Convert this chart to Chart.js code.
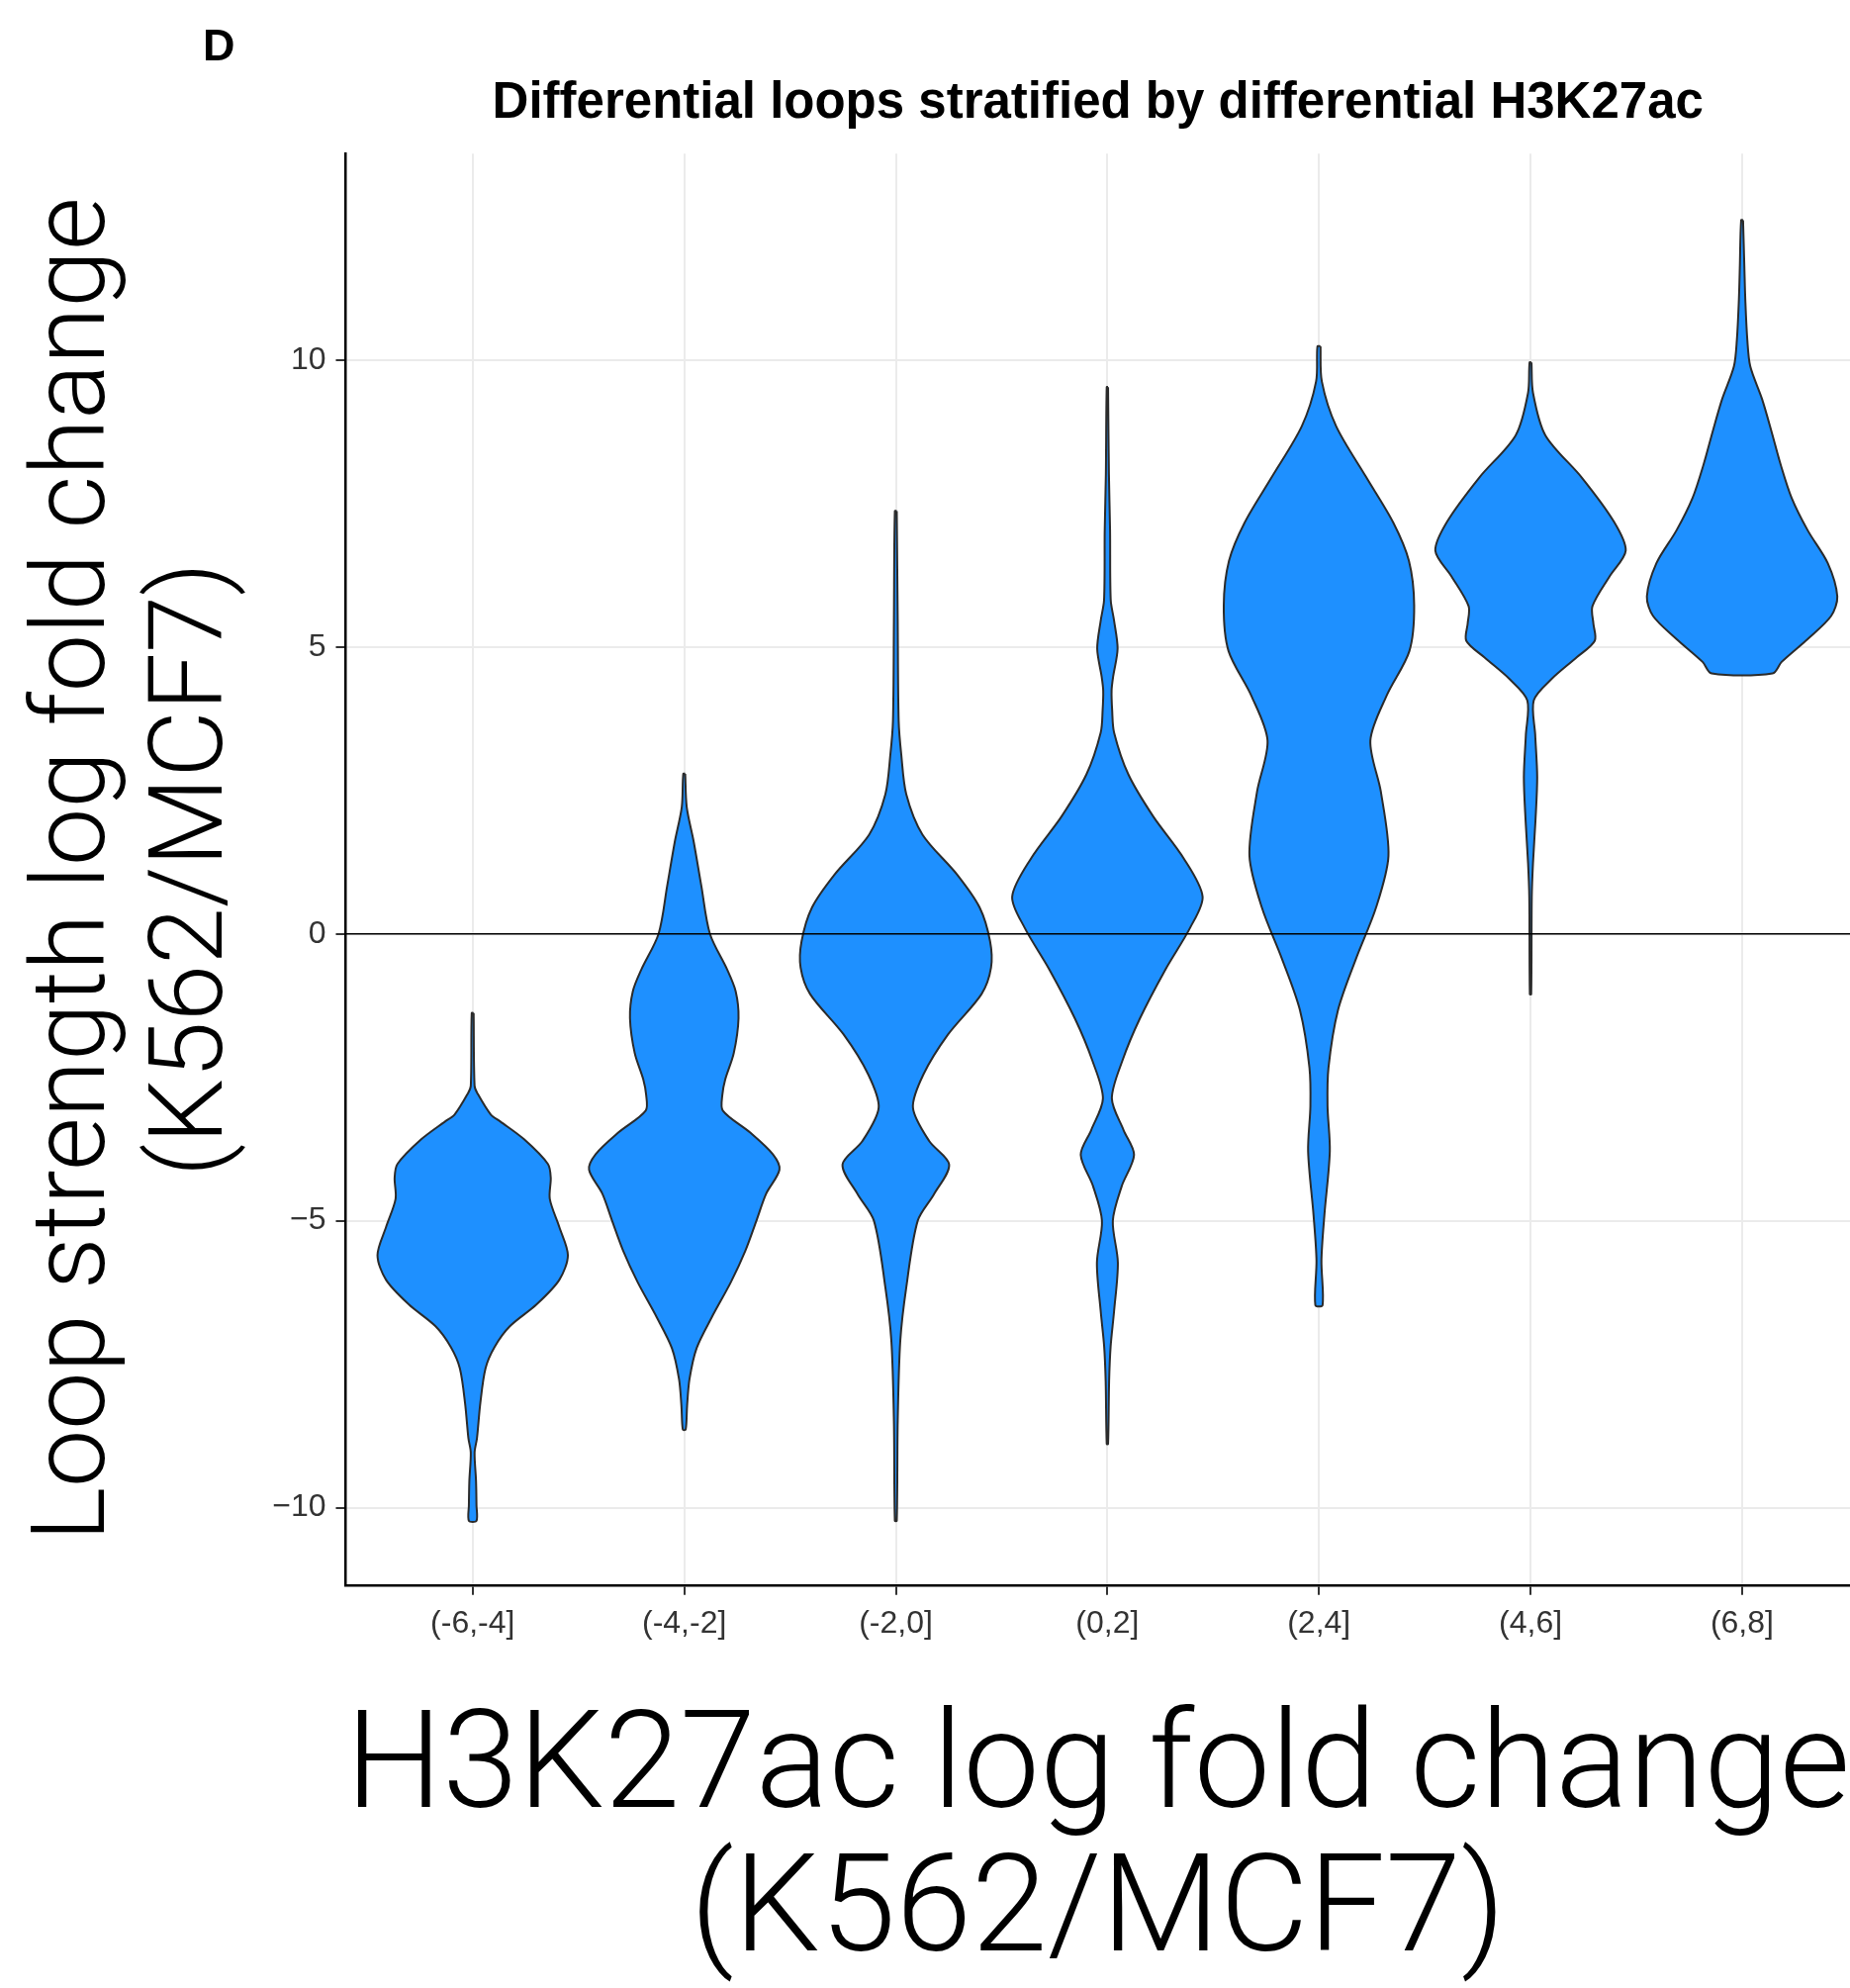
<!DOCTYPE html>
<html>
<head>
<meta charset="utf-8">
<title>Differential loops stratified by differential H3K27ac</title>
<script src="https://cdn.jsdelivr.net/npm/chart.js@4.4.1/dist/chart.umd.min.js"></script>
<style>
  html, body { margin: 0; padding: 0; background: #fff; }
  #wrap { width: 1870px; height: 2009px; position: relative; }
</style>
</head>
<body>
<div id="wrap"><canvas id="violinChart"></canvas></div>
<script>
// =============================================
// Data
// =============================================
const categories = ['(-6,-4]', '(-4,-2]', '(-2,0]', '(0,2]', '(2,4]', '(4,6]', '(6,8]'];
const yTicks = [-10, -5, 0, 5, 10];
const zeroLine = 0;

// each violin: y levels (top -> bottom) and relative density (1 = widest)
const levels1  = [-1.38, -2.65, -2.78, -3.15, -3.27, -3.58, -4.01, -4.25, -4.62, -5.11, -5.6, -6.03, -6.46, -6.84, -7.2, -7.57, -8.18, -8.79, -9.04, -9.53, -9.96, -10.23];
const density1 = [0.01, 0.02, 0.05, 0.19, 0.29, 0.54, 0.79, 0.82, 0.81, 0.91, 1.0, 0.91, 0.67, 0.39, 0.23, 0.135, 0.08, 0.045, 0.02, 0.035, 0.04, 0.04];

const levels2  = [2.79, 2.21, 1.6, 0.83, 0.0, -0.62, -1.0, -1.47, -2.08, -2.54, -2.81, -3.08, -3.46, -3.84, -4.11, -4.53, -4.99, -5.53, -6.07, -6.68, -7.22, -7.76, -8.22, -8.64];
const density2 = [0.01, 0.026, 0.1, 0.18, 0.27, 0.45, 0.54, 0.57, 0.52, 0.43, 0.4, 0.405, 0.69, 0.93, 1.0, 0.86, 0.76, 0.64, 0.49, 0.29, 0.13, 0.055, 0.03, 0.015];

const levels3  = [7.37, 5.45, 3.71, 3.13, 2.43, 1.73, 1.04, 0.46, -0.13, -0.59, -1.05, -1.75, -2.45, -3.03, -3.61, -4.02, -4.54, -5.0, -6.16, -7.09, -8.49, -10.23];
const density3 = [0.01, 0.02, 0.03, 0.057, 0.11, 0.28, 0.64, 0.88, 0.99, 1.0, 0.9, 0.55, 0.29, 0.18, 0.35, 0.56, 0.4, 0.23, 0.11, 0.047, 0.02, 0.01];

const levels4  = [9.53, 8.01, 7.04, 5.82, 5.46, 4.97, 4.48, 4.24, 3.9, 3.51, 2.78, 2.05, 1.32, 0.65, 0.11, -0.62, -1.48, -2.2, -2.87, -3.42, -3.85, -4.4, -5.0, -5.73, -6.58, -7.19, -7.8, -8.89];
const density4 = [0.007, 0.016, 0.028, 0.035, 0.07, 0.107, 0.06, 0.044, 0.05, 0.07, 0.22, 0.48, 0.8, 1.0, 0.87, 0.61, 0.34, 0.16, 0.047, 0.17, 0.28, 0.15, 0.057, 0.11, 0.07, 0.034, 0.018, 0.007];

const levels5  = [10.24, 9.63, 8.85, 7.95, 7.17, 6.5, 5.72, 4.93, 4.15, 3.37, 2.48, 1.36, 0.46, -0.43, -1.33, -2.33, -3.0, -3.79, -4.9, -5.69, -6.47];
const density5 = [0.016, 0.03, 0.18, 0.5, 0.78, 0.945, 1.0, 0.95, 0.71, 0.54, 0.65, 0.73, 0.6, 0.39, 0.2, 0.1, 0.09, 0.114, 0.057, 0.026, 0.038];

const levels6  = [9.96, 9.43, 8.69, 7.95, 7.2, 6.68, 6.23, 5.71, 5.41, 5.11, 4.82, 4.44, 4.07, 3.47, 2.73, 1.98, 1.24, 0.64, -1.05];
const density6 = [0.01, 0.026, 0.156, 0.54, 0.87, 1.0, 0.83, 0.65, 0.66, 0.675, 0.485, 0.22, 0.034, 0.049, 0.07, 0.052, 0.026, 0.013, 0.007];

const levels7  = [12.44, 11.61, 11.04, 10.35, 9.89, 9.32, 8.75, 8.18, 7.6, 7.03, 6.46, 5.88, 5.54, 5.14, 4.74, 4.54];
const density7 = [0.01, 0.024, 0.034, 0.055, 0.086, 0.21, 0.31, 0.405, 0.52, 0.69, 0.9, 1.0, 0.935, 0.69, 0.415, 0.32];

const violinLevels = [levels1, levels2, levels3, levels4, levels5, levels6, levels7];
const violinDensity = [density1, density2, density3, density4, density5, density6, density7];

// =============================================
// Helpers
// =============================================
const violinHalfWidth = 0.45;   // ggplot default width 0.9 of a category
const minus = (v) => (v < 0 ? '\u2212' + Math.abs(v) : String(v));

// closed outline: right side top->bottom, left side bottom->top
function violinOutline(i, levels, density) {
  const right = levels.map((y, k) => ({ x: i + density[k] * violinHalfWidth, y }));
  const left = levels.map((y, k) => ({ x: i - density[k] * violinHalfWidth, y })).reverse();
  return right.concat(left, [right[0]]);
}

// horizontal reference line at y = 0, drawn over the violins
const zeroLinePlugin = {
  id: 'zeroLine',
  afterDatasetsDraw(chart) {
    const { ctx, chartArea, scales } = chart;
    const y = scales.y.getPixelForValue(zeroLine);
    ctx.save();
    ctx.strokeStyle = '#000';
    ctx.lineWidth = 1.6;
    ctx.beginPath();
    ctx.moveTo(chartArea.left, y);
    ctx.lineTo(chartArea.right, y);
    ctx.stroke();
    ctx.restore();
  }
};

// panel letter
const panelLabel = {
  id: 'panelLabel',
  afterDraw(chart) {
    const { ctx } = chart;
    ctx.save();
    ctx.fillStyle = '#000';
    ctx.font = 'bold 45px "Liberation Sans", Arial, sans-serif';
    ctx.textBaseline = 'alphabetic';
    ctx.fillText('D', 205, 61);
    ctx.restore();
  }
};

// =============================================
// Chart
// =============================================
Chart.defaults.font.family = '"Liberation Sans", Arial, sans-serif';

const ctx = document.getElementById('violinChart');

new Chart(ctx, {
  type: 'scatter',
  data: {
    datasets: violinLevels.map((levels, i) => ({
      label: categories[i],
      data: violinOutline(i, levels, violinDensity[i]),
      showLine: true,
      fill: 'shape',
      backgroundColor: '#1E90FF',
      borderColor: '#2b2b2b',
      borderWidth: 2,
      pointRadius: 0,
      pointHoverRadius: 0,
      tension: 0.3
    }))
  },
  options: {
    responsive: true,
    maintainAspectRatio: false,
    animation: false,
    layout: { padding: { top: 0, left: 0, right: 0, bottom: 0 } },
    plugins: {
      legend: { display: false },
      tooltip: { enabled: false },
      title: {
        display: true,
        text: 'Differential loops stratified by differential H3K27ac',
        fullSize: false,
        color: '#000',
        font: { size: 51, weight: 'bold', family: '"Liberation Sans", Arial, sans-serif' },
        padding: { top: 74, bottom: 20 }
      }
    },
    scales: {
      x: {
        type: 'linear',
        min: -0.6,
        max: 6.51,
        afterBuildTicks: (scale) => { scale.ticks = categories.map((c, i) => ({ value: i })); },
        border: { display: true, color: '#000', width: 2.5 },
        grid: { color: '#ebebeb', lineWidth: 2, tickColor: '#333', tickLength: 10, tickWidth: 2 },
        ticks: {
          callback: (v) => categories[v] ?? '',
          color: '#333',
          font: { size: 32 },
          padding: 10,
          maxRotation: 0
        },
        title: {
          display: true,
          text: ['H3K27ac log fold change', '(K562/MCF7)'],
          color: '#000',
          font: { size: 138, weight: '300', family: 'Roboto, "Liberation Sans", sans-serif', lineHeight: 1.05 },
          padding: { top: 49, bottom: 0 }
        }
      },
      y: {
        min: -11.35,
        max: 13.6,
        afterBuildTicks: (scale) => { scale.ticks = yTicks.map((v) => ({ value: v })); },
        border: { display: true, color: '#000', width: 2.5 },
        grid: { color: '#ebebeb', lineWidth: 2, tickColor: '#333', tickLength: 10, tickWidth: 2 },
        ticks: {
          callback: (v) => minus(v),
          color: '#333',
          font: { size: 32 },
          padding: 10
        },
        title: {
          display: true,
          text: ['Loop strength log fold change', '(K562/MCF7)'],
          color: '#000',
          font: { size: 104, weight: '300', family: 'Roboto, "Liberation Sans", sans-serif', lineHeight: 1.15 },
          padding: { top: 19, bottom: 7 }
        }
      }
    }
  },
  plugins: [zeroLinePlugin, panelLabel]
});
</script>
</body>
</html>
